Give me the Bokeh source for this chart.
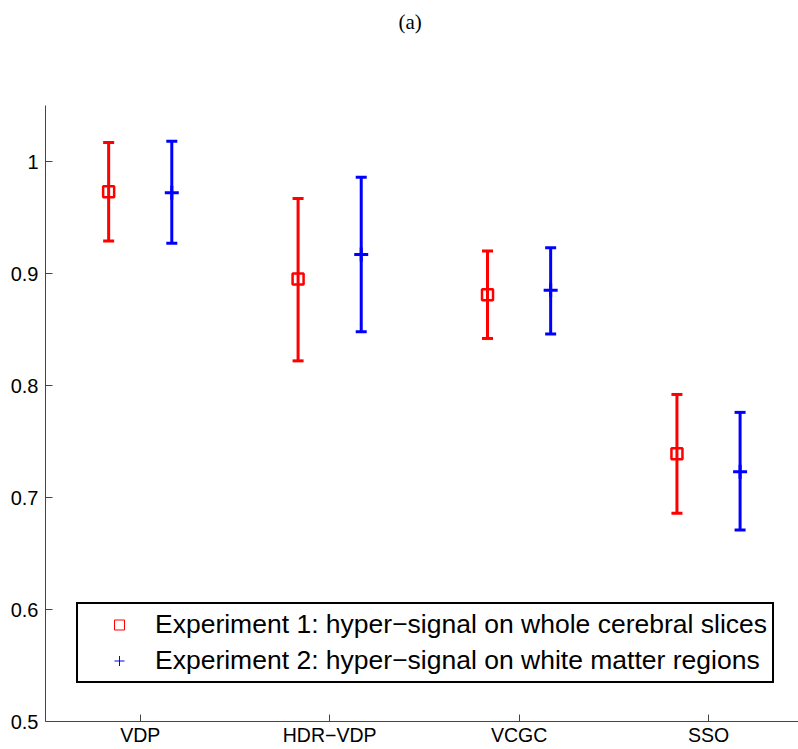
import numpy as np
from bokeh.plotting import figure
from bokeh.models import (ColumnDataSource, Whisker, TeeHead, FixedTicker, Range1d,
                          Legend, LegendItem, Title)
from bokeh.embed import file_html
from bokeh.resources import INLINE

# ---- data ----
categories = ["VDP", "HDR\u2212VDP", "VCGC", "SSO"]
exp1_mean = [0.973, 0.895, 0.881, 0.739]
exp1_upper = [1.017, 0.967, 0.920, 0.792]
exp1_lower = [0.929, 0.822, 0.842, 0.686]
exp2_mean = [0.972, 0.917, 0.885, 0.723]
exp2_upper = [1.018, 0.986, 0.923, 0.776]
exp2_lower = [0.927, 0.848, 0.846, 0.671]
legend_labels = ["Experiment 1: hyper\u2212signal on whole cerebral slices",
                 "Experiment 2: hyper\u2212signal on white matter regions"]
y_ticks = [0.5, 0.6, 0.7, 0.8, 0.9, 1.0]
title_text = "(a)"

offset = 1.0 / 6.0
pos = np.arange(1, len(categories) + 1)

src1 = ColumnDataSource(dict(x=pos - offset, y=exp1_mean, up=exp1_upper, lo=exp1_lower))
src2 = ColumnDataSource(dict(x=pos + offset, y=exp2_mean, up=exp2_upper, lo=exp2_lower))

p = figure(width=798, height=749, output_backend="svg", toolbar_location=None,
           x_range=Range1d(0.5, 4.475), y_range=Range1d(0.5, 1.05),
           min_border_left=45, min_border_right=0, min_border_top=105, min_border_bottom=28)
p.outline_line_color = None
p.grid.visible = False
p.background_fill_color = "white"
p.border_fill_color = "white"

# spacer panel between frame and title (keeps the title near the top of the canvas)
p.add_layout(Title(text=" ", text_font_size="10px", standoff=49), "above")

p.title.text = title_text
p.title.align = "left"
p.title.vertical_align = "top"
p.title.offset = 353
p.title.standoff = 16
p.title.text_font = "Liberation Serif"
p.title.text_font_size = "21px"
p.title.text_font_style = "normal"
p.title.text_color = "black"

red = "#ff0000"
blue = "#0000ff"

for src, col in [(src1, red), (src2, blue)]:
    w = Whisker(source=src, base="x", upper="up", lower="lo", dimension="height",
                line_color=col, line_width=3,
                upper_head=TeeHead(size=11, line_color=col, line_width=3),
                lower_head=TeeHead(size=11, line_color=col, line_width=3))
    p.add_layout(w)

r1 = p.scatter("x", "y", source=src1, marker="square", size=11, fill_color="white",
               fill_alpha=0, line_color=red, line_width=2.5)
r2 = p.scatter("x", "y", source=src2, marker="cross", size=14,
               line_color=blue, line_width=3)

# legend-only renderers (thin markers as in the legend), placed off-screen
l1 = p.scatter(x=[-100], y=[-100], marker="square", size=10, fill_alpha=0,
               line_color=red, line_width=1)
l2 = p.scatter(x=[-100], y=[-100], marker="cross", size=10, line_color=blue, line_width=1)

legend = Legend(items=[LegendItem(label=legend_labels[0], renderers=[l1]),
                       LegendItem(label=legend_labels[1], renderers=[l2])],
                location=(31, 38), orientation="vertical",
                glyph_width=72, glyph_height=25, label_height=30,
                label_standoff=0, spacing=5, padding=5, margin=0,
                label_text_font="Liberation Sans", label_text_font_size="26.5px",
                label_text_color="black",
                border_line_color="black", border_line_width=2, border_line_alpha=1,
                background_fill_color="white", background_fill_alpha=1)
p.add_layout(legend, "center")

# axes
for ax in (p.xaxis[0], p.yaxis[0]):
    ax.axis_line_color = "#444444"
    ax.axis_line_width = 1
    ax.major_tick_line_color = "#444444"
    ax.major_tick_in = 7
    ax.major_tick_out = 0
    ax.minor_tick_line_color = None
    ax.major_label_text_font = "Liberation Sans"
    ax.major_label_text_color = "black"

p.xaxis.ticker = FixedTicker(ticks=list(pos))
p.xaxis.major_label_overrides = {int(i): c for i, c in zip(pos, categories)}
p.xaxis.major_label_text_font_size = "19.5px"
p.xaxis.major_label_standoff = 2

p.yaxis.ticker = FixedTicker(ticks=y_ticks)
p.yaxis.major_label_overrides = {1: "1"}
p.yaxis.major_label_text_font_size = "20px"
p.yaxis.major_label_standoff = 7

open("out.html", "w").write(file_html(p, INLINE))
